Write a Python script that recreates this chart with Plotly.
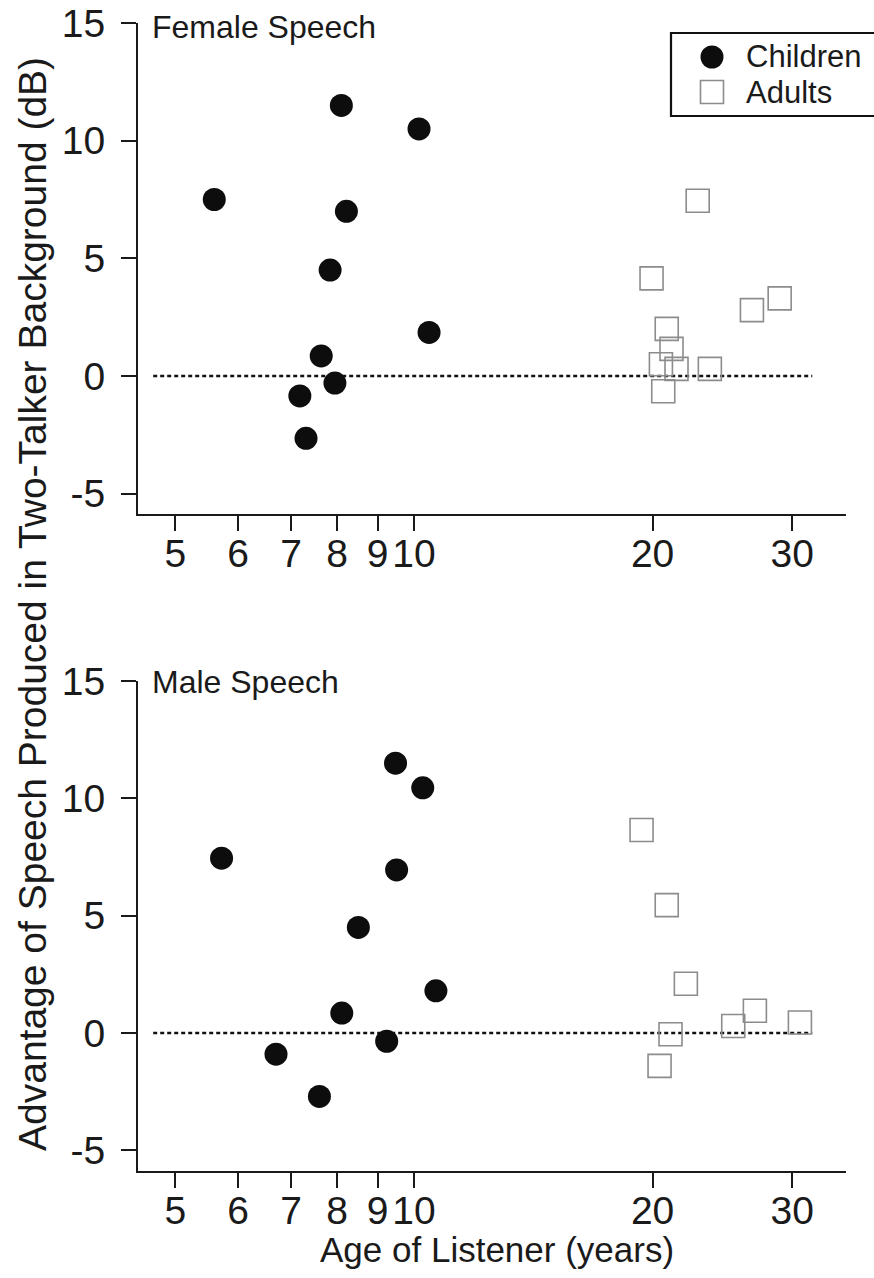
import plotly.graph_objects as go

# ---------------- data ----------------
x_ticks = [5, 6, 7, 8, 9, 10, 20, 30]
x_tick_labels = ["5", "6", "7", "8", "9", "10", "20", "30"]
y_ticks = [-5, 0, 5, 10, 15]
y_tick_labels = ["-5", "0", "5", "10", "15"]

panel_titles = ["Female Speech", "Male Speech"]
series_names = ["Children", "Adults"]

female_child_age = [5.60, 8.10, 10.15, 8.22, 7.84, 10.45, 7.64, 7.95, 7.18, 7.31]
female_child_adv = [7.5, 11.5, 10.5, 7.0, 4.5, 1.85, 0.85, -0.3, -0.85, -2.65]
female_adult_age = [22.8, 19.94, 20.84, 21.13, 20.49, 21.44, 23.62, 20.63, 26.69, 28.93]
female_adult_adv = [7.45, 4.15, 2.0, 1.15, 0.5, 0.3, 0.3, -0.65, 2.8, 3.3]

male_child_age = [5.72, 9.48, 10.26, 9.51, 8.51, 10.66, 8.11, 9.24, 6.70, 7.60]
male_child_adv = [7.45, 11.5, 10.45, 6.95, 4.5, 1.8, 0.85, -0.35, -0.9, -2.7]
male_adult_age = [19.37, 20.84, 22.03, 21.07, 20.41, 25.28, 26.92, 30.68]
male_adult_adv = [8.65, 5.45, 2.1, -0.05, -1.4, 0.3, 0.95, 0.45]

ref_line_age = [4.69, 31.8]
ref_line_adv = [0, 0]

# ---------------- figure ----------------
FONT = "Liberation Sans, Arial, sans-serif"
INK = "#1a1a1a"
CHILD_COLOR = "#0d0d0d"
ADULT_COLOR = "#8c8c8c"

fig = go.Figure()

panels = [
    ("x", "y", female_child_age, female_child_adv, female_adult_age, female_adult_adv),
    ("x2", "y2", male_child_age, male_child_adv, male_adult_age, male_adult_adv),
]
for xa, ya, ca, cv, aa, av in panels:
    fig.add_trace(go.Scatter(
        x=ref_line_age, y=ref_line_adv, xaxis=xa, yaxis=ya, mode="lines",
        line=dict(color="#111111", width=2.5, dash="4px,3px"),
        showlegend=False, hoverinfo="skip"))
    fig.add_trace(go.Scatter(
        x=ca, y=cv, xaxis=xa, yaxis=ya, mode="markers", name=series_names[0],
        marker=dict(symbol="circle", size=23, color=CHILD_COLOR, line=dict(width=0)),
        showlegend=False, legendgroup="c"))
    fig.add_trace(go.Scatter(
        x=aa, y=av, xaxis=xa, yaxis=ya, mode="markers", name=series_names[1],
        marker=dict(symbol="square-open", size=23, color=ADULT_COLOR, line=dict(width=1.6)),
        showlegend=False, legendgroup="a"))

xax = dict(
    type="log", range=[0.652, 1.545], tickvals=x_ticks, ticktext=x_tick_labels,
    showline=True, linecolor=INK, linewidth=2, ticks="outside", ticklen=15,
    tickwidth=2, tickcolor=INK, showgrid=False, zeroline=False,
    tickfont=dict(family=FONT, size=39, color=INK), ticklabelstandoff=-11,
    ticklabeloverflow="allow",
)
yax = dict(
    range=[-5.88, 15.001], tickvals=y_ticks, ticktext=y_tick_labels,
    showline=True, linecolor=INK, linewidth=2, ticks="outside", ticklen=15,
    tickwidth=2, tickcolor=INK, showgrid=False, zeroline=False,
    tickfont=dict(family=FONT, size=39, color=INK), ticklabelstandoff=8,
    ticklabeloverflow="allow",
)

# full-window figure (page body margin removed below)
fig.update_layout(
    width=874, height=1278,
    margin=dict(l=138, r=28, t=23, b=107, autoexpand=False),
    paper_bgcolor="white", plot_bgcolor="white",
    xaxis=dict(xax, domain=[0, 1], anchor="y"),
    yaxis=dict(yax, domain=[0.572, 1.0], anchor="x"),
    xaxis2=dict(xax, domain=[0, 1], anchor="y2"),
    yaxis2=dict(yax, domain=[0.0, 0.4268], anchor="x2"),
    showlegend=False,
    font=dict(family=FONT, color=INK),
)

# plot-area geometry in window pixels used to place the key and labels
L, T, W, H = 138, 23, 708, 1148
def px(xp):
    return (xp - L) / W
def py(yp):
    return (T + H - yp) / H

# key (legend) drawn as a framed box with symbols and labels
shapes = [
    dict(type="rect", xref="paper", yref="paper",
         x0=px(671), x1=px(880), y0=py(116), y1=py(33),
         line=dict(color="#111111", width=2.2), fillcolor="white", layer="above"),
    dict(type="circle", xref="paper", yref="paper", xsizemode="pixel", ysizemode="pixel",
         xanchor=px(712), yanchor=py(57), x0=-11.5, x1=11.5, y0=-11.5, y1=11.5,
         fillcolor=CHILD_COLOR, line=dict(width=0), layer="above"),
    dict(type="rect", xref="paper", yref="paper", xsizemode="pixel", ysizemode="pixel",
         xanchor=px(712), yanchor=py(92), x0=-11.5, x1=11.5, y0=-11.5, y1=11.5,
         fillcolor="rgba(0,0,0,0)", line=dict(color=ADULT_COLOR, width=1.6), layer="above"),
]

annotations = [
    dict(text=series_names[0], xref="paper", yref="paper", x=px(744), y=py(57),
         xanchor="left", yanchor="middle", showarrow=False,
         font=dict(family=FONT, size=31, color=INK)),
    dict(text=series_names[1], xref="paper", yref="paper", x=px(744), y=py(92),
         xanchor="left", yanchor="middle", showarrow=False,
         font=dict(family=FONT, size=31, color=INK)),
    dict(text=panel_titles[0], xref="paper", yref="paper", x=px(150), y=py(27),
         xanchor="left", yanchor="middle", showarrow=False,
         font=dict(family=FONT, size=32, color=INK)),
    dict(text=panel_titles[1], xref="paper", yref="paper", x=px(150), y=py(682),
         xanchor="left", yanchor="middle", showarrow=False,
         font=dict(family=FONT, size=32, color=INK)),
    dict(text="Advantage of Speech Produced in Two-Talker Background (dB)",
         xref="paper", yref="paper", x=px(32), y=py(604), textangle=-90,
         xanchor="center", yanchor="middle", showarrow=False,
         font=dict(family=FONT, size=39, color=INK)),
    dict(text="Age of Listener (years)", xref="paper", yref="paper",
         x=px(497), y=py(1249), xanchor="center", yanchor="middle", showarrow=False,
         font=dict(family=FONT, size=35, color=INK)),
]
fig.update_layout(annotations=annotations, shapes=shapes)

fig.write_html(
    "out.html",
    config={"displayModeBar": False},
    post_script="document.body.style.margin='0';document.body.style.overflow='hidden';",
)
